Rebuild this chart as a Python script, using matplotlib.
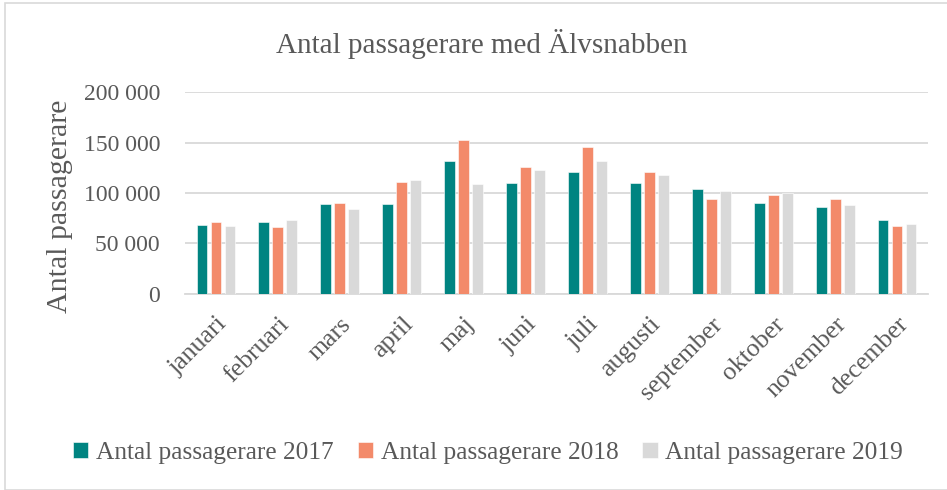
import matplotlib
matplotlib.use("Agg")
import matplotlib.pyplot as plt
import numpy as np
from matplotlib.patches import Rectangle

months = ["januari", "februari", "mars", "april", "maj", "juni", "juli",
          "augusti", "september", "oktober", "november", "december"]
p2017 = [68000, 71300, 89300, 88700, 131300, 110000, 121000, 110300, 104300, 90000, 86000, 73300]
p2018 = [71300, 66700, 90000, 111000, 152700, 125700, 145700, 120700, 94000, 97700, 94300, 67700]
p2019 = [67300, 72700, 84000, 112700, 109000, 123000, 131700, 117700, 101700, 100300, 87700, 69700]
series_labels = ["Antal passagerare 2017", "Antal passagerare 2018", "Antal passagerare 2019"]
yticks = [0, 50000, 100000, 150000, 200000]
ytick_labels = ["0", "50 000", "100 000", "150 000", "200 000"]

colors = ["#008481", "#F38A6A", "#D9D9D9"]
txt = "#595959"
plt.rcParams['font.family'] = ['Liberation Serif', 'DejaVu Serif']

fig = plt.figure(figsize=(9.47, 4.90), dpi=100)
fig.patches.append(Rectangle((5/947, 0.0), 1.2, 1 - 3/490, transform=fig.transFigure,
                             fill=False, edgecolor="#D9D9D9", linewidth=1.2))
ax = fig.add_axes([185/947, 1 - 293.7/490, (928 - 185)/947, (293.7 - 92.3)/490])

x = np.arange(len(months))
w = 0.175
off = 0.226
for i, (vals, c, lab) in enumerate(zip([p2017, p2018, p2019], colors, series_labels)):
    ax.bar(x + (i - 1) * off, vals, width=w, color=c, label=lab, zorder=3,
           edgecolor="white", linewidth=0.4)

ax.set_xlim(-0.5, len(months) - 0.5)
ax.set_ylim(0, 200000)
ax.set_yticks(yticks)
ax.set_yticklabels(ytick_labels)
ax.yaxis.grid(True, color="#D9D9D9", linewidth=1.3, zorder=0)
ax.set_axisbelow(True)
for s in ["top", "right", "left"]:
    ax.spines[s].set_visible(False)
ax.spines["bottom"].set_color("#D9D9D9")
ax.spines["bottom"].set_linewidth(1.3)
ax.tick_params(axis="y", length=0, pad=18, labelsize=17, labelcolor=txt)
ax.tick_params(axis="x", length=0, pad=14, labelsize=18.5, labelcolor=txt)
ax.set_xticks(x)
ax.set_xticklabels(months, rotation=45, ha="right", rotation_mode="anchor")

fig.text(60/947, 1 - 206/490, "Antal passagerare", rotation=90, ha="center", va="center",
         fontsize=21.5, color=txt)
fig.text(482/947, 1 - 44/490, "Antal passagerare med Älvsnabben", ha="center", va="center",
         fontsize=21, color=txt)

leg = fig.legend(loc="center", bbox_to_anchor=(488/947, 1 - 453/490), ncol=3, frameon=False,
                 fontsize=18.3, handlelength=0.6, handleheight=0.6, handletextpad=0.3,
                 columnspacing=0.95, labelcolor=txt)

fig.savefig("out.png", dpi=100)
